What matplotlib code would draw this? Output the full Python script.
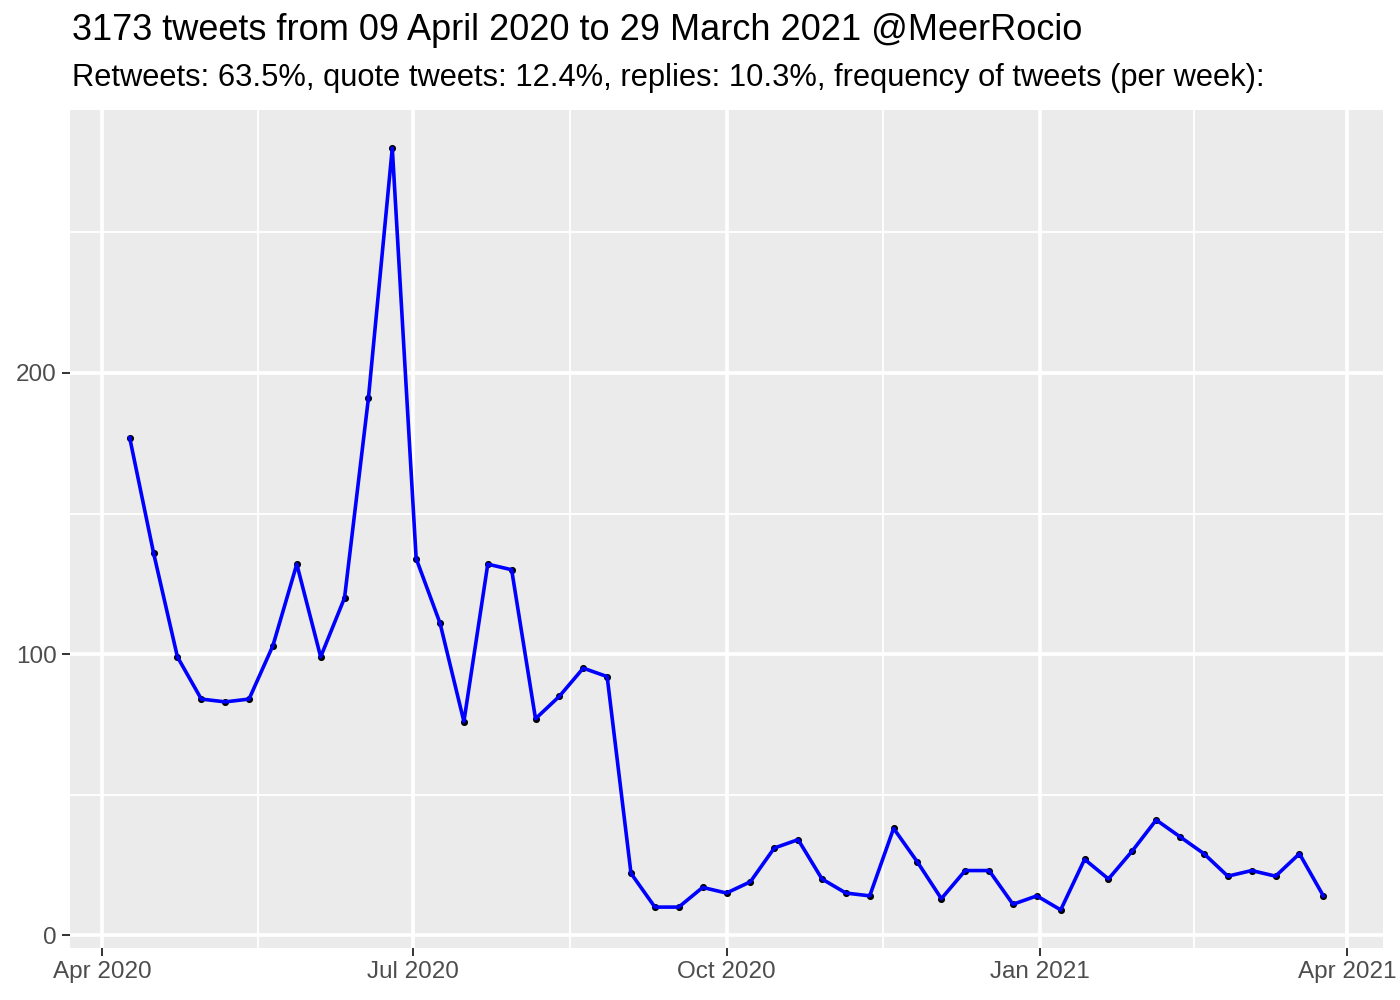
import matplotlib
matplotlib.use("Agg")
import matplotlib.pyplot as plt
import matplotlib.dates as mdates
import numpy as np
import pandas as pd

start_date = "2020-04-09"
weekly_counts = [177, 136, 99, 84, 83, 84, 103, 132, 99, 120, 191, 280,
                 134, 111, 76, 132, 130, 77, 85, 95, 92, 22, 10, 10, 17,
                 15, 19, 31, 34, 20, 15, 14, 38, 26, 13, 23, 23, 11, 14,
                 9, 27, 20, 30, 41, 35, 29, 21, 23, 21, 29, 14]
dates = pd.date_range(start_date, periods=len(weekly_counts), freq="7D")

title = "3173 tweets from 09 April 2020 to 29 March 2021 @MeerRocio"
subtitle = "Retweets: 63.5%, quote tweets: 12.4%, replies: 10.3%, frequency of tweets (per week):"
y_ticks = [0, 100, 200]
y_minor = [50, 150, 250]
x_tick_dates = ["2020-04-01", "2020-07-01", "2020-10-01", "2021-01-01", "2021-04-01"]
x_tick_labels = ["Apr 2020", "Jul 2020", "Oct 2020", "Jan 2021", "Apr 2021"]

plt.rcParams['font.family'] = ['Liberation Sans', 'DejaVu Sans']

fig = plt.figure(figsize=(14, 10), dpi=100)
ax = fig.add_axes([70/1400, 1 - 948/1000, (1383-70)/1400, (948-110)/1000])
ax.set_facecolor("#EBEBEB")

xnum = mdates.date2num(dates)
span = xnum[-1] - xnum[0]
ax.set_xlim(xnum[0] - 0.05*span, xnum[-1] + 0.05*span)
ymin, ymax = min(weekly_counts), max(weekly_counts)
yr = ymax - ymin
ax.set_ylim(ymin - 0.05*yr, ymax + 0.05*yr)

major_x = mdates.date2num(pd.to_datetime(x_tick_dates))
ax.set_xticks(major_x)
ax.set_xticklabels(x_tick_labels)
ax.set_xticks((major_x[:-1] + major_x[1:]) / 2, minor=True)
ax.set_yticks(y_ticks)
ax.set_yticks(y_minor, minor=True)

ax.grid(True, which="major", color="white", linewidth=2.6)
ax.grid(True, which="minor", color="white", linewidth=1.3)
ax.set_axisbelow(True)
for s in ax.spines.values():
    s.set_visible(False)

ax.tick_params(which="major", length=5.5, width=1.4, color="#333333",
               labelsize=17.5, labelcolor="#4D4D4D", pad=4)
ax.tick_params(which="minor", length=0)

ax.scatter(xnum, weekly_counts, s=26, color="black", zorder=2, linewidths=0)
ax.plot(xnum, weekly_counts, color="#0000FF", linewidth=2.6, zorder=3)

fig.text(72/1400, 1 - 31/1000, title, fontsize=26, ha="left", va="center", color="black")
fig.text(72/1400, 1 - 78/1000, subtitle, fontsize=22.2, ha="left", va="center", color="black")

fig.savefig("out.png", dpi=100)
